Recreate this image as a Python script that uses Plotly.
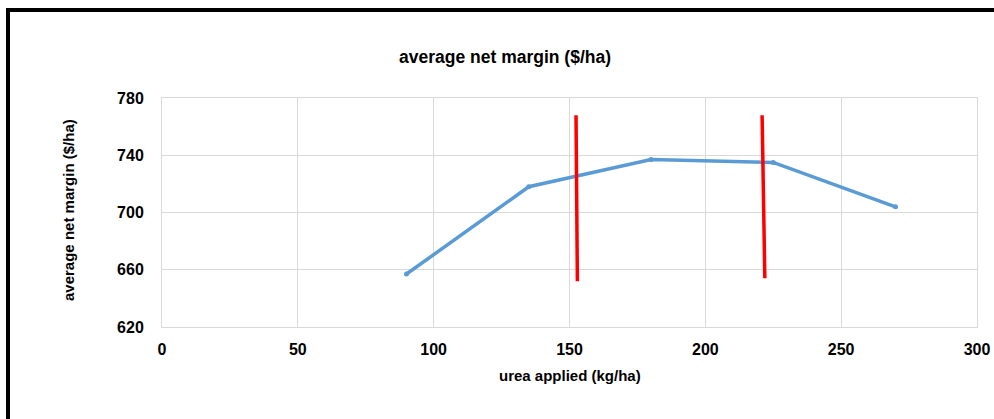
import plotly.graph_objects as go

urea = [90, 135, 180, 225, 270]
margin_vals = [657, 718, 737, 735, 704]

red1_x = [152.4, 152.9]
red1_y = [768, 652]
red2_x = [220.9, 221.9]
red2_y = [768, 654]

title_text = "average net margin ($/ha)"
x_title = "urea applied (kg/ha)"
y_title = "average net margin ($/ha)"
x_ticks = [0, 50, 100, 150, 200, 250, 300]
y_ticks = [620, 660, 700, 740, 780]

FONT = "Liberation Sans, Arial, sans-serif"

fig = go.Figure()
fig.add_trace(go.Scatter(x=urea, y=margin_vals, mode="lines+markers",
                         line=dict(color="#5B9BD5", width=3.5),
                         marker=dict(color="#5B9BD5", size=5),
                         showlegend=False))
for xs, ys in [(red1_x, red1_y), (red2_x, red2_y)]:
    fig.add_trace(go.Scatter(x=xs, y=ys, mode="lines",
                             line=dict(color="#FF0000", width=3.5),
                             showlegend=False))

L, R, T, B = 162, 17, 98, 92
W, H = 994, 419
pw, ph = W - L - R, H - T - B

def px2paper_x(px):
    return (px - L) / pw

def px2paper_y(py):
    return (H - B - py) / ph

fig.update_layout(
    width=W, height=H, autosize=False,
    margin=dict(l=L, r=R, t=T, b=B, pad=0),
    paper_bgcolor="white", plot_bgcolor="white",
    font=dict(family=FONT, color="#000000"),
    xaxis=dict(range=[0, 300], tickvals=x_ticks, showgrid=True, automargin=False,
               gridcolor="#D9D9D9", gridwidth=1, zeroline=False,
               showline=True, linecolor="#D9D9D9", linewidth=1, mirror=True,
               tickfont=dict(size=16, family=FONT, color="#000", weight="bold"), ticks="",
               ticklabelstandoff=8),
    yaxis=dict(range=[620, 780], tickvals=y_ticks, showgrid=True, automargin=False,
               gridcolor="#D9D9D9", gridwidth=1, zeroline=False,
               showline=True, linecolor="#D9D9D9", linewidth=1, mirror=True,
               tickfont=dict(size=16, family=FONT, color="#000", weight="bold"), ticks="",
               ticklabelstandoff=14),
    annotations=[
        dict(text="<b>" + title_text + "</b>", xref="paper", yref="paper",
             x=px2paper_x(505), y=px2paper_y(57), showarrow=False,
             xanchor="center", yanchor="middle",
             font=dict(size=17.5, family=FONT, color="#000")),
        dict(text="<b>" + x_title + "</b>", xref="paper", yref="paper",
             x=px2paper_x(570), y=px2paper_y(375), showarrow=False,
             xanchor="center", yanchor="middle",
             font=dict(size=15, family=FONT, color="#000")),
        dict(text="<b>" + y_title + "</b>", xref="paper", yref="paper",
             x=px2paper_x(68), y=px2paper_y(210), showarrow=False, textangle=-90,
             xanchor="center", yanchor="middle",
             font=dict(size=15, family=FONT, color="#000")),
    ],
    shapes=[
        dict(type="path", xref="paper", yref="paper",
             path="M %f %f L %f %f L %f %f L %f %f" % (
                 px2paper_x(8), px2paper_y(440), px2paper_x(8), px2paper_y(10),
                 px2paper_x(1010), px2paper_y(10), px2paper_x(1010), px2paper_y(440)),
             line=dict(color="black", width=4)),
    ],
)

fig.write_html("out.html", config={"displayModeBar": False, "responsive": False},
               post_script="document.body.style.margin='0';")
